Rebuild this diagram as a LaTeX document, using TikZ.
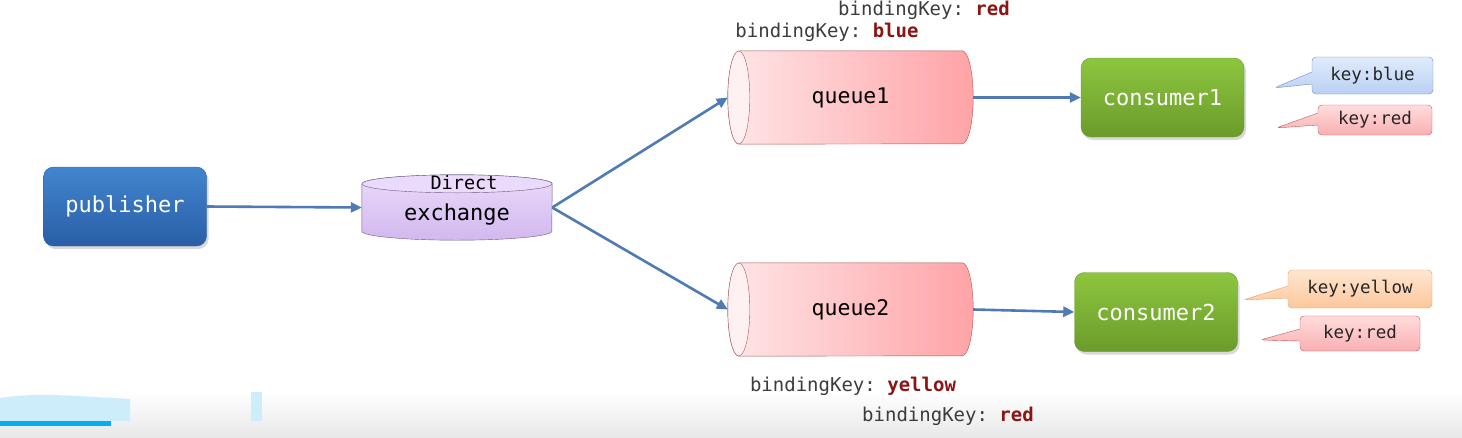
\documentclass[tikz,border=0pt]{standalone}
\usepackage{fontspec}
\setmonofont{DejaVu Sans Mono}
\usetikzlibrary{arrows.meta, shapes.callouts, shadows, backgrounds}
\definecolor{pubtop}{HTML}{4185CF}
\definecolor{pubbot}{HTML}{2A5EA6}
\definecolor{contop}{HTML}{8DC63F}
\definecolor{conbot}{HTML}{6B9B2B}
\definecolor{flowblue}{HTML}{4F7AB3}
\definecolor{qleft}{HTML}{FFE6E8}
\definecolor{qright}{HTML}{FFA3A6}
\definecolor{qface}{HTML}{FFF0F1}
\definecolor{qedge}{HTML}{A85558}
\definecolor{extop}{HTML}{EADAFB}
\definecolor{exbot}{HTML}{D2B8EE}
\definecolor{exedge}{HTML}{6E5A86}
\definecolor{keygray}{HTML}{3C3C3C}
\definecolor{keyred}{HTML}{8B1414}
\definecolor{bluetop}{HTML}{E0EBFC}
\definecolor{bluebot}{HTML}{B9D0F3}
\definecolor{blueedge}{HTML}{6A8CC4}
\definecolor{redtop}{HTML}{FFDCDC}
\definecolor{redbot}{HTML}{F9AFB2}
\definecolor{rededge}{HTML}{C55A5E}
\definecolor{oratop}{HTML}{FFE6D0}
\definecolor{orabot}{HTML}{FCC79C}
\definecolor{oraedge}{HTML}{E0A06C}
\definecolor{uiblue}{HTML}{CDEDFA}
\definecolor{barblue}{HTML}{00B0F0}

\begin{document}
\begin{tikzpicture}[x=1pt,y=-1pt,
    box/.style={rounded corners=10pt, minimum width=163pt, minimum height=79pt,
      text=white, font=\ttfamily\fontsize{22}{24}\selectfont,
      drop shadow={opacity=0.3, shadow xshift=2pt, shadow yshift=-3pt}},
    pubbox/.style={box, top color=pubtop, bottom color=pubbot, draw=pubbot},
    conbox/.style={box, top color=contop, bottom color=conbot, draw=conbot},
    queuebox/.style={minimum width=245pt, minimum height=93pt,
      font=\ttfamily\fontsize{21.5}{24}\selectfont},
    flow/.style={draw=flowblue, line width=2.6pt,
      -{Triangle[length=11pt,width=10pt]}},
    keytip/.style={rectangle callout, rounded corners=4pt, callout pointer width=12pt,
      font=\ttfamily\fontsize{17.5}{20}\selectfont, text=black!85},
    bluetip/.style={keytip, top color=bluetop, bottom color=bluebot, draw=blueedge},
    redtip/.style={keytip, top color=redtop, bottom color=redbot, draw=rededge},
    oratip/.style={keytip, top color=oratop, bottom color=orabot, draw=oraedge},
    bkey/.style={font=\ttfamily\fontsize{19}{22}\selectfont, text=keygray},
  ]
  \useasboundingbox (0,0) rectangle (1462,437);

  % bottom of the frame
  \shade[top color=white, bottom color=black!9] (0,392) rectangle (1462,437);
  \fill[uiblue] (0,398) .. controls (40,392) and (70,396) .. (130,399) -- (130,421) -- (0,421) -- cycle;
  \fill[uiblue] (251,392) rectangle (262,421);
  \fill[barblue] (0,421) rectangle (111,426);

  % nodes
  \node[pubbox] (pub) at (125,206.5) {publisher};
  \node[minimum width=190pt, minimum height=65pt, text height=30pt, text depth=5pt,
    font=\ttfamily\fontsize{22}{24}\selectfont] (ex) at (457,207.5) {exchange};
  \node[font=\ttfamily\fontsize{18.5}{20}\selectfont] (exkind) at (464,183) {Direct};
  \node[queuebox] (q1) at (850.5,97.5) {queue1};
  \node[queuebox] (q2) at (850.5,309.5) {queue2};
  \node[conbox] (c1) at (1162.5,97.5) {consumer1};
  \node[conbox] (c2) at (1156,312) {consumer2};

  % cylinders
  \begin{scope}[on background layer]
    \draw[exedge, top color=extop, bottom color=exbot]
      ([yshift=-9pt]ex.north west) -- ([yshift=9pt]ex.south west)
      arc[start angle=180, end angle=360, x radius=95pt, y radius=9pt]
      -- ([yshift=-9pt]ex.north east)
      arc[start angle=0, end angle=180, x radius=95pt, y radius=9pt] -- cycle;
    \draw[exedge, fill=extop] ([yshift=-9pt]ex.north) ellipse[x radius=95pt, y radius=9pt];
    \foreach \q in {q1,q2} {
      \draw[qedge, left color=qleft, right color=qright]
        ([xshift=11pt]\q.north west) -- ([xshift=-11pt]\q.north east)
        arc[start angle=90, end angle=-90, x radius=11pt, y radius=46.5pt]
        -- ([xshift=11pt]\q.south west)
        arc[start angle=270, end angle=90, x radius=11pt, y radius=46.5pt] -- cycle;
      \draw[qedge, fill=qface] ([xshift=11pt]\q.west) ellipse[x radius=11pt, y radius=46.5pt];
    }
  \end{scope}

  % connectors
  \draw[flow] (pub.east) -- (ex.west);
  \draw[flow] (ex.east) -- (q1.west);
  \draw[flow] (ex.east) -- (q2.west);
  \draw[flow] (q1.east) -- (c1.west);
  \draw[flow] (q2.east) -- (c2.west);

  % routing keys of the consumers
  \coordinate (t1) at (1274,88);
  \coordinate (t2) at (1276,128);
  \coordinate (t3) at (1243,300);
  \coordinate (t4) at (1260,340);
  \node[bluetip, minimum width=121pt, minimum height=37pt, callout absolute pointer={(t1)}] (k1) at (1372.5,75.5) {key:blue};
  \node[redtip, minimum width=114pt, minimum height=30pt, callout absolute pointer={(t2)}] (k2) at (1375,120) {key:red};
  \node[oratip, minimum width=144pt, minimum height=38pt, callout absolute pointer={(t3)}] (k3) at (1360,289) {key:yellow};
  \node[redtip, minimum width=120pt, minimum height=35pt, callout absolute pointer={(t4)}] (k4) at (1360,333.5) {key:red};

  % binding keys
  \node[bkey] (b1) at (924,10) {bindingKey: \textbf{\color{keyred}red}};
  \node[bkey] (b2) at (827,32) {bindingKey: \textbf{\color{keyred}blue}};
  \node[bkey] (b3) at (853,386) {bindingKey: \textbf{\color{keyred}yellow}};
  \node[bkey] (b4) at (948,416) {bindingKey: \textbf{\color{keyred}red}};
\end{tikzpicture}
\end{document}
